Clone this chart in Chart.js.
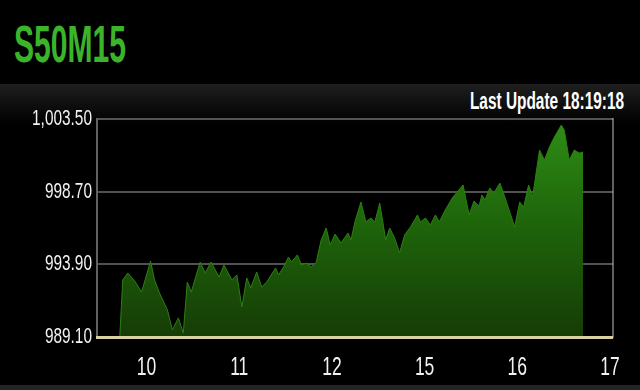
<!DOCTYPE html>
<html>
<head>
<meta charset="utf-8">
<script src="https://cdn.jsdelivr.net/npm/chart.js@4"></script>
<style>
  html, body { margin: 0; padding: 0; background: #000; }
  #wrap { position: relative; width: 640px; height: 390px; overflow: hidden; background: #000; }
  #band { position: absolute; left: 0; top: 84px; width: 640px; height: 40px;
          background: linear-gradient(#1f1f1f, #0c0c0c 60%, #000); }
  #foot { position: absolute; left: 0; top: 385px; width: 640px; height: 5px; background: #242424; }
  #title { position: absolute; left: 14px; top: 19px; font: bold 51px/51px "Liberation Sans", Arial, sans-serif;
           color: #3cb42a; transform: scaleX(0.59); transform-origin: left top; white-space: nowrap; }
  #upd { position: absolute; right: 16px; top: 90px; font: bold 23px/23px "Liberation Sans", Arial, sans-serif;
         color: #fff; transform: scaleX(0.67); transform-origin: right top; white-space: nowrap; }
  #cv { position: absolute; left: 0; top: 0; }
</style>
</head>
<body>
<div id="wrap">
  <div id="band"></div>
  <div id="foot"></div>
  <div id="title">S50M15</div>
  <div id="upd">Last Update 18:19:18</div>
  <canvas id="cv" width="640" height="390"></canvas>
</div>
<script>
const xLabels = ['10', '11', '12', '15', '16', '17'];
const yTicks = [989.10, 993.90, 998.70, 1003.50];
const times = [
  -0.289, -0.257, -0.203, -0.128, -0.054, 0.043, 0.086, 0.139, 0.225, 0.278,
  0.343, 0.396, 0.439, 0.482, 0.578, 0.632, 0.696, 0.782, 0.835, 0.921,
  0.974, 1.028, 1.081, 1.124, 1.188, 1.242, 1.296, 1.392, 1.424, 1.478,
  1.531, 1.563, 1.627, 1.670, 1.724, 1.777, 1.831, 1.884, 1.938, 1.981,
  2.034, 2.099, 2.173, 2.206, 2.248, 2.313, 2.366, 2.420, 2.463, 2.516,
  2.580, 2.623, 2.677, 2.730, 2.784, 2.848, 2.923, 2.955, 3.009, 3.062,
  3.116, 3.158, 3.223, 3.298, 3.351, 3.415, 3.480, 3.533, 3.587, 3.619,
  3.651, 3.704, 3.747, 3.812, 3.865, 3.972, 4.026, 4.069, 4.122, 4.165,
  4.240, 4.293, 4.347, 4.400, 4.475, 4.507, 4.561, 4.615, 4.668, 4.711
];
const prices = [
  989.16, 992.87, 993.33, 992.80, 992.07, 994.12, 992.87, 992.01, 990.88, 989.56,
  990.36, 989.36, 992.73, 992.07, 994.05, 993.33, 994.05, 993.06, 993.86, 992.87,
  993.20, 991.08, 993.00, 992.34, 993.39, 992.40, 992.73, 993.66, 993.20, 993.72,
  994.38, 994.05, 994.52, 993.86, 993.99, 993.72, 994.05, 995.51, 996.30, 995.18,
  995.90, 995.31, 995.97, 995.51, 996.70, 998.02, 996.70, 996.96, 996.70, 997.95,
  995.51, 996.30, 995.64, 994.65, 995.84, 996.37, 997.16, 996.70, 996.96, 996.50,
  997.16, 996.70, 997.49, 998.28, 998.68, 999.14, 997.16, 998.08, 997.75, 998.48,
  998.15, 998.94, 998.61, 999.27, 998.35, 996.37, 998.02, 997.69, 999.14, 998.35,
  1001.45, 1000.79, 1001.65, 1002.31, 1003.10, 1002.77, 1000.79, 1001.45, 1001.25, 1001.32
];

const points = times.map((t, i) => ({ x: t, y: prices[i] }));

function fillGradient(ctx) {
  const area = ctx.chart.chartArea;
  if (!area) return '#1d620a';
  const g = ctx.chart.ctx.createLinearGradient(0, area.top, 0, area.bottom);
  g.addColorStop(0, '#2f8e15');
  g.addColorStop(0.45, '#1f670b');
  g.addColorStop(1, '#163c06');
  return g;
}

// Narrow (condensed) rendering of the canvas tick labels
const condense = {
  id: 'condense',
  beforeDraw(chart) {
    const c = chart.ctx;
    if (c.__condensed) return;
    const orig = c.fillText;
    c.fillText = function (t, x, y, mw) {
      this.save();
      this.translate(x, y);
      this.scale(0.7, 1);
      if (mw === undefined) orig.call(this, t, 0, 0); else orig.call(this, t, 0, 0, mw);
      this.restore();
    };
    c.__condensed = true;
  }
};

const tickFont = { family: '"Liberation Sans", Arial, sans-serif', size: 22 };

new Chart(document.getElementById('cv'), {
  type: 'line',
  data: {
    datasets: [{
      data: points,
      fill: 'start',
      backgroundColor: fillGradient,
      borderColor: '#2a8012',
      borderWidth: 1,
      pointRadius: 0,
      tension: 0
    }]
  },
  plugins: [condense],
  options: {
    responsive: false,
    animation: false,
    events: [],
    layout: { padding: { left: 0, right: 0, top: 119, bottom: 0 } },
    plugins: { legend: { display: false }, tooltip: { enabled: false } },
    scales: {
      x: {
        type: 'linear',
        min: -0.535,
        max: 5.032,
        afterBuildTicks: (s) => { s.ticks = xLabels.map((_, i) => ({ value: i })); },
        afterFit: (s) => { s.height = 53; },
        ticks: {
          color: '#f2f2f2',
          font: { ...tickFont, size: 25 },
          padding: 16,
          maxRotation: 0,
          autoSkip: false,
          callback: (v) => xLabels[v]
        },
        grid: { display: false, drawTicks: false },
        border: { display: true, color: '#d9d1a2', width: 3, z: 2 }
      },
      y: {
        type: 'linear',
        min: yTicks[0],
        max: yTicks[yTicks.length - 1],
        z: 1,
        afterBuildTicks: (s) => { s.ticks = yTicks.map(v => ({ value: v })); },
        afterFit: (s) => { s.width = 97; },
        ticks: {
          color: '#f2f2f2',
          font: tickFont,
          padding: 5,
          callback: (v) => v.toLocaleString('en-US', { minimumFractionDigits: 2, maximumFractionDigits: 2 })
        },
        grid: { color: 'rgba(255,255,255,0.32)', lineWidth: 2, drawTicks: false },
        border: { display: true, color: 'rgba(255,255,255,0.38)', width: 2 }
      },
      y2: {
        type: 'linear',
        position: 'right',
        min: yTicks[0],
        max: yTicks[yTicks.length - 1],
        afterFit: (s) => { s.width = 23; },
        ticks: { display: false },
        grid: { display: false, drawTicks: false },
        border: { display: true, color: 'rgba(255,255,255,0.38)', width: 2 }
      }
    }
  }
});
</script>
</body>
</html>
